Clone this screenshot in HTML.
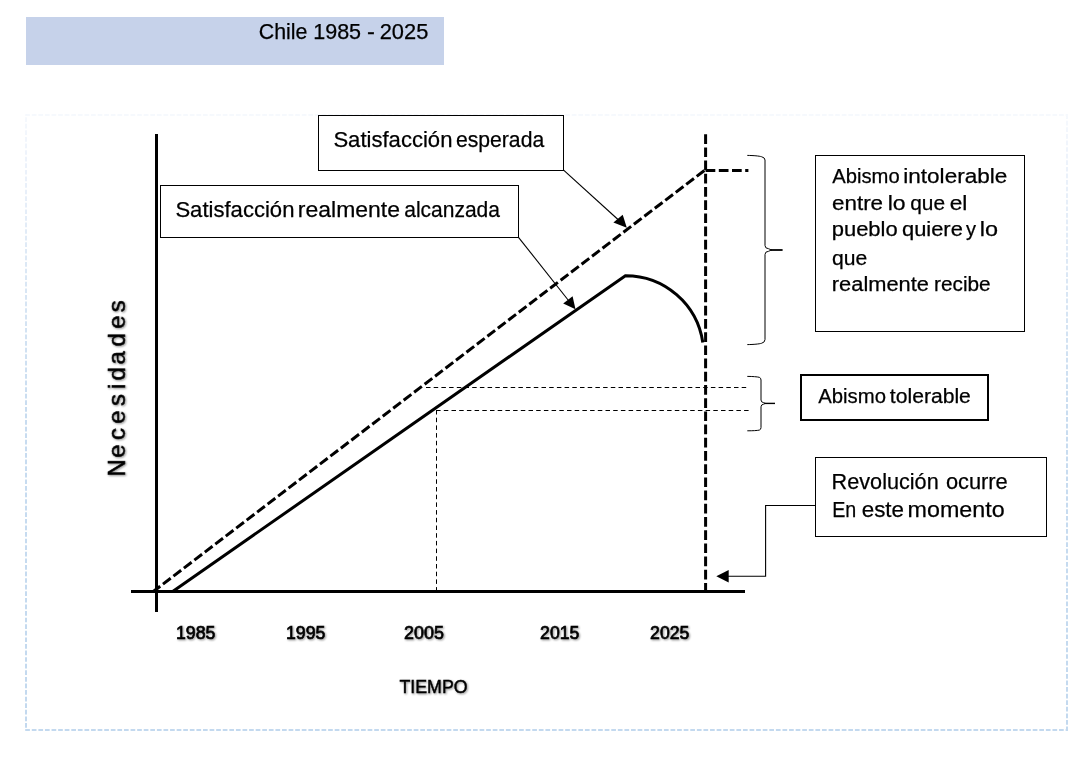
<!DOCTYPE html>
<html>
<head>
<meta charset="utf-8">
<style>
html,body{margin:0;padding:0;background:#fff;}
body{width:1092px;height:762px;overflow:hidden;position:relative;font-family:"Liberation Sans",sans-serif;}
svg{position:absolute;left:0;top:0;will-change:transform;}
text{font-family:"Liberation Sans",sans-serif;fill:#000;stroke:#000;stroke-width:0.25px;}
text.yr{stroke-width:0.7px;}
</style>
</head>
<body>
<svg width="1092" height="762" viewBox="0 0 1092 762">
<defs>
<linearGradient id="bg" x1="0" y1="114" x2="0" y2="731" gradientUnits="userSpaceOnUse">
<stop offset="0" stop-color="#f6f9fd"/>
<stop offset="0.066" stop-color="#eef3fb"/>
<stop offset="0.245" stop-color="#dce8f5"/>
<stop offset="0.49" stop-color="#c8dcf0"/>
<stop offset="1" stop-color="#c3d9ef"/>
</linearGradient>
<filter id="sh" x="-20%" y="-20%" width="140%" height="140%">
<feGaussianBlur in="SourceAlpha" stdDeviation="0.8"/>
<feOffset dx="1" dy="1" result="b"/>
<feComponentTransfer><feFuncA type="linear" slope="0.45"/></feComponentTransfer>
<feMerge><feMergeNode/><feMergeNode in="SourceGraphic"/></feMerge>
</filter>
</defs>

<!-- title bar -->
<rect x="26" y="17" width="418" height="48" fill="#c6d2ea"/>
<text x="258.82" y="38.6" font-size="22" textLength="48.63" lengthAdjust="spacingAndGlyphs">Chile</text>
<text x="313.16" y="38.6" font-size="22" textLength="47.95" lengthAdjust="spacingAndGlyphs">1985</text>
<text x="366.94" y="38.6" font-size="22" textLength="7.91" lengthAdjust="spacingAndGlyphs">-</text>
<text x="379.70" y="38.6" font-size="22" textLength="48.62" lengthAdjust="spacingAndGlyphs">2025</text>

<!-- dashed frame -->
<g fill="none" stroke="url(#bg)" stroke-width="2" stroke-dasharray="4.7 1.885">
<line x1="25.2" y1="115" x2="1068" y2="115"/>
<line x1="25.2" y1="730" x2="1068" y2="730"/>
<line x1="26" y1="117.2" x2="26" y2="729"/>
<line x1="1067" y1="114.2" x2="1067" y2="731"/>
</g>

<!-- axes -->
<line x1="156.5" y1="134" x2="156.5" y2="612" stroke="#000" stroke-width="3"/>
<line x1="131" y1="591.5" x2="745" y2="591.5" stroke="#000" stroke-width="3"/>

<!-- thin dashed guides -->
<g stroke="#000" stroke-width="1" stroke-dasharray="4.5 3.2" fill="none">
<line x1="423" y1="387.5" x2="746.2" y2="387.5" stroke-dashoffset="4.7"/>
<line x1="436.1" y1="410.5" x2="748.6" y2="410.5"/>
<line x1="436.5" y1="410" x2="436.5" y2="590"/>
</g>

<!-- expected (dashed) -->
<line x1="153.3" y1="591.5" x2="705.5" y2="169.6" stroke="#000" stroke-width="3" stroke-dasharray="9.68 3.49" stroke-dashoffset="1"/>
<line x1="705.6" y1="170.5" x2="748.4" y2="170.5" stroke="#000" stroke-width="3" stroke-dasharray="9.7 3.5"/>
<line x1="705.6" y1="134.2" x2="705.6" y2="590" stroke="#000" stroke-width="3" stroke-dasharray="9.7 3.5"/>

<!-- actual (solid) -->
<path d="M172.7,591.5 L625.4,275.7 A78,78 0 0 1 702.8,342.5" fill="none" stroke="#000" stroke-width="3" stroke-linejoin="miter"/>

<!-- braces -->
<path d="M747.3,155.4 C754,155.5 759,156 761.5,156.7 Q765,157.6 765,160 L765,245.5 Q765,248.5 768.5,248.7 L771.5,250 L768.5,251.3 Q765,251.5 765,254.5 L765,339.5 Q765,342.4 761.5,343.3 C759,344 754,344.5 747.3,344.6" fill="none" stroke="#000" stroke-width="1"/>
<line x1="771" y1="250" x2="782.6" y2="250" stroke="#000" stroke-width="1.8"/>
<path d="M747.3,376.4 C753,376.4 757,376.8 759.3,377.3 Q761,377.9 761,380 L761,400 Q761,402.3 763.5,402.6 L765.3,403.4 L763.5,404.2 Q761,404.5 761,406.8 L761,427.5 Q761,429.6 759.3,430.1 C757,430.6 753,430.8 747.3,430.8" fill="none" stroke="#000" stroke-width="1"/>
<line x1="764.5" y1="403.4" x2="775" y2="403.4" stroke="#000" stroke-width="1.4"/>

<!-- boxes -->
<rect x="318.5" y="115.5" width="245" height="55" fill="#fff" stroke="#000" stroke-width="1"/>
<text x="333.40" y="146.9" font-size="22" textLength="119.04" lengthAdjust="spacingAndGlyphs">Satisfacción</text>
<text x="455.90" y="146.9" font-size="22" textLength="88.30" lengthAdjust="spacingAndGlyphs">esperada</text>

<rect x="160.5" y="185.5" width="358" height="52" fill="#fff" stroke="#000" stroke-width="1"/>
<text x="175.40" y="217.1" font-size="22" textLength="119.04" lengthAdjust="spacingAndGlyphs">Satisfacción</text>
<text x="297.88" y="217.1" font-size="22" textLength="102.04" lengthAdjust="spacingAndGlyphs">realmente</text>
<text x="404.21" y="217.1" font-size="22" textLength="95.79" lengthAdjust="spacingAndGlyphs">alcanzada</text>

<rect x="815.5" y="155.5" width="209" height="176" fill="#fff" stroke="#000" stroke-width="1"/>
<text x="832.26" y="182.6" font-size="20" textLength="67.39" lengthAdjust="spacingAndGlyphs">Abismo</text>
<text x="903.29" y="182.6" font-size="20" textLength="104.01" lengthAdjust="spacingAndGlyphs">intolerable</text>
<text x="831.95" y="210.0" font-size="20" textLength="51.15" lengthAdjust="spacingAndGlyphs">entre</text>
<text x="887.65" y="210.0" font-size="20" textLength="17.92" lengthAdjust="spacingAndGlyphs">lo</text>
<text x="910.22" y="210.0" font-size="20" textLength="34.80" lengthAdjust="spacingAndGlyphs">que</text>
<text x="949.73" y="210.0" font-size="20" textLength="17.69" lengthAdjust="spacingAndGlyphs">el</text>
<text x="831.68" y="236.4" font-size="20" textLength="66.04" lengthAdjust="spacingAndGlyphs">pueblo</text>
<text x="901.98" y="236.4" font-size="20" textLength="60.89" lengthAdjust="spacingAndGlyphs">quiere</text>
<text x="965.95" y="236.4" font-size="20" textLength="9.99" lengthAdjust="spacingAndGlyphs">y</text>
<text x="979.72" y="236.4" font-size="20" textLength="18.27" lengthAdjust="spacingAndGlyphs">lo</text>
<text x="831.91" y="264.5" font-size="20" textLength="35.22" lengthAdjust="spacingAndGlyphs">que</text>
<text x="831.85" y="290.8" font-size="20" textLength="97.12" lengthAdjust="spacingAndGlyphs">realmente</text>
<text x="934.02" y="290.8" font-size="20" textLength="56.60" lengthAdjust="spacingAndGlyphs">recibe</text>

<rect x="801" y="375" width="187" height="45" fill="#fff" stroke="#000" stroke-width="2"/>
<text x="818.26" y="402.8" font-size="20" textLength="67.69" lengthAdjust="spacingAndGlyphs">Abismo</text>
<text x="889.88" y="402.8" font-size="20" textLength="80.96" lengthAdjust="spacingAndGlyphs">tolerable</text>

<rect x="815.5" y="457.5" width="231" height="79" fill="#fff" stroke="#000" stroke-width="1"/>
<text x="831.62" y="488.7" font-size="22" textLength="107.08" lengthAdjust="spacingAndGlyphs">Revolución</text>
<text x="945.88" y="488.7" font-size="22" textLength="61.89" lengthAdjust="spacingAndGlyphs">ocurre</text>
<text x="832.18" y="516.7" font-size="22" textLength="24.10" lengthAdjust="spacingAndGlyphs">En</text>
<text x="861.75" y="516.7" font-size="22" textLength="42.24" lengthAdjust="spacingAndGlyphs">este</text>
<text x="907.55" y="516.7" font-size="22" textLength="97.13" lengthAdjust="spacingAndGlyphs">momento</text>

<!-- connectors / arrows -->
<g stroke="#000" stroke-width="1.1" fill="none">
<line x1="563.6" y1="170.2" x2="618" y2="219.5"/>
<line x1="518.5" y1="237.3" x2="568.5" y2="300.5"/>
<polyline points="815,505.5 765.6,505.5 765.6,576.3 728,576.3"/>
</g>
<g fill="#000">
<polygon points="626.8,227.8 613.4,222.6 622.7,214.8"/>
<polygon points="575.5,309.2 563.2,303.5 572.6,296.2"/>
<polygon points="716.3,576.3 728.7,570.1 728.7,582.5"/>
</g>

<!-- axis labels -->
<g filter="url(#sh)">
<g>
<text x="175.95" y="638.9" font-size="18.75" textLength="39.39" lengthAdjust="spacingAndGlyphs" class="yr">1985</text>
<text x="285.95" y="638.9" font-size="18.75" textLength="39.39" lengthAdjust="spacingAndGlyphs" class="yr">1995</text>
<text x="404.00" y="638.9" font-size="18.75" textLength="39.85" lengthAdjust="spacingAndGlyphs" class="yr">2005</text>
<text x="540.11" y="638.9" font-size="18.75" textLength="39.23" lengthAdjust="spacingAndGlyphs" class="yr">2015</text>
<text x="650.11" y="638.9" font-size="18.75" textLength="39.23" lengthAdjust="spacingAndGlyphs" class="yr">2025</text>
</g>
<text x="399.50" y="692.7" font-size="18.6" textLength="68.05" lengthAdjust="spacingAndGlyphs" style="stroke-width:0.45px">TIEMPO</text>
<text transform="translate(124.9,480) rotate(-90)" x="3.4 22.35 39.95 56.25 74.1 90.95 99.4 115.45 133.4 151.25 167.8" y="0" font-size="24" style="stroke-width:0.5px">Necesidades</text>
</g>
</svg>
</body>
</html>
